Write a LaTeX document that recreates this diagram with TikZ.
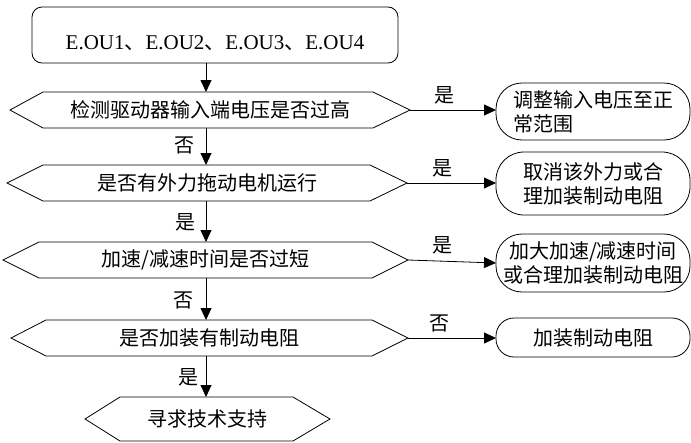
\documentclass[tikz,border=0pt]{standalone}
\usepackage{fontspec}
\setmainfont{Liberation Serif}
\newfontfamily\cjk{Noto Sans CJK SC}
\usetikzlibrary{arrows.meta}
\newcommand\hexdraw[3]{\draw (#1.west) -- ([xshift=#2]#1.north west) -- ([xshift=-#3]#1.north east) -- (#1.east) -- ([xshift=-#3]#1.south east) -- ([xshift=#2]#1.south west) -- cycle;}
\begin{document}
\begin{tikzpicture}[x=1pt,y=-1pt, line width=0.8pt,
  txt/.style={font=\cjk\fontsize{20}{24}\selectfont, inner sep=0pt, outer sep=0pt},
  hexn/.style={txt, draw=none, minimum height=36pt},
  rbox/.style={txt, draw, minimum width=194pt, align=center},
  arr/.style={-{Triangle[length=12pt,width=11pt]}}]
\useasboundingbox (0,0) rectangle (691,442);
\coordinate (spine) at (206,0);

\node[draw, rounded corners=10pt, minimum width=366pt, minimum height=56pt, inner sep=0pt,
  font=\fontsize{21}{24}\selectfont, text height=28pt, text depth=0pt] (t) at (215,35)
  {E.OU1{\cjk 、}E.OU2{\cjk 、}E.OU3{\cjk 、}E.OU4};

\node[hexn, minimum width=400pt] (h1) at (210,110) {检测驱动器输入端电压是否过高};
\hexdraw{h1}{33pt}{37pt}
\node[hexn, minimum width=400pt] (h2) at (207,183) {是否有外力拖动电机运行};
\hexdraw{h2}{36pt}{37pt}
\node[hexn, minimum width=405pt] (h3) at (205.5,260) {加速/减速时间是否过短};
\hexdraw{h3}{36pt}{36pt}
\node[hexn, minimum width=397pt] (h4) at (209.5,338) {是否加装有制动电阻};
\hexdraw{h4}{35pt}{36pt}
\node[hexn, minimum width=245pt, minimum height=44pt] (h5) at (207.5,419) {寻求技术支持};
\hexdraw{h5}{35pt}{37pt}

\node[rbox, minimum height=57pt, rounded corners=26pt, align=left] (b1) at (593,111.5) {调整输入电压至正\\常范围};
\node[rbox, minimum height=63pt, rounded corners=28pt] (b2) at (593,183.5) {取消该外力或合\\理加装制动电阻};
\node[rbox, minimum height=58pt, rounded corners=26pt] (b3) at (593,263) {加大加速/减速时间\\或合理加装制动电阻};
\node[rbox, minimum height=39pt, rounded corners=18pt] (b4) at (593,337.5) {加装制动电阻};

\draw[arr] (t.south -| spine) -- (h1.north -| spine);
\draw[arr] (h1.south -| spine) -- (h2.north -| spine);
\draw[arr] (h2.south -| spine) -- (h3.north -| spine);
\draw[arr] (h3.south -| spine) -- (h4.north -| spine);
\draw[arr] (h4.south -| spine) -- (h5.north -| spine);

\draw[arr] (h1.east) -- (h1.east -| b1.west);
\draw[arr] (h2.east) -- (h2.east -| b2.west);
\draw[arr] (h3.east) -- (b3.west);
\draw[arr] (h4.east) -- (h4.east -| b4.west);

\node[txt] (l1) at (444,95) {是};
\node[txt] (l2) at (442,168) {是};
\node[txt] (l3) at (442,245) {是};
\node[txt] (l4) at (439,323) {否};
\node[txt] (v1) at (184,145) {否};
\node[txt] (v2) at (185,222) {是};
\node[txt] (v3) at (183,300) {否};
\node[txt] (v4) at (188,377) {是};
\end{tikzpicture}
\end{document}
